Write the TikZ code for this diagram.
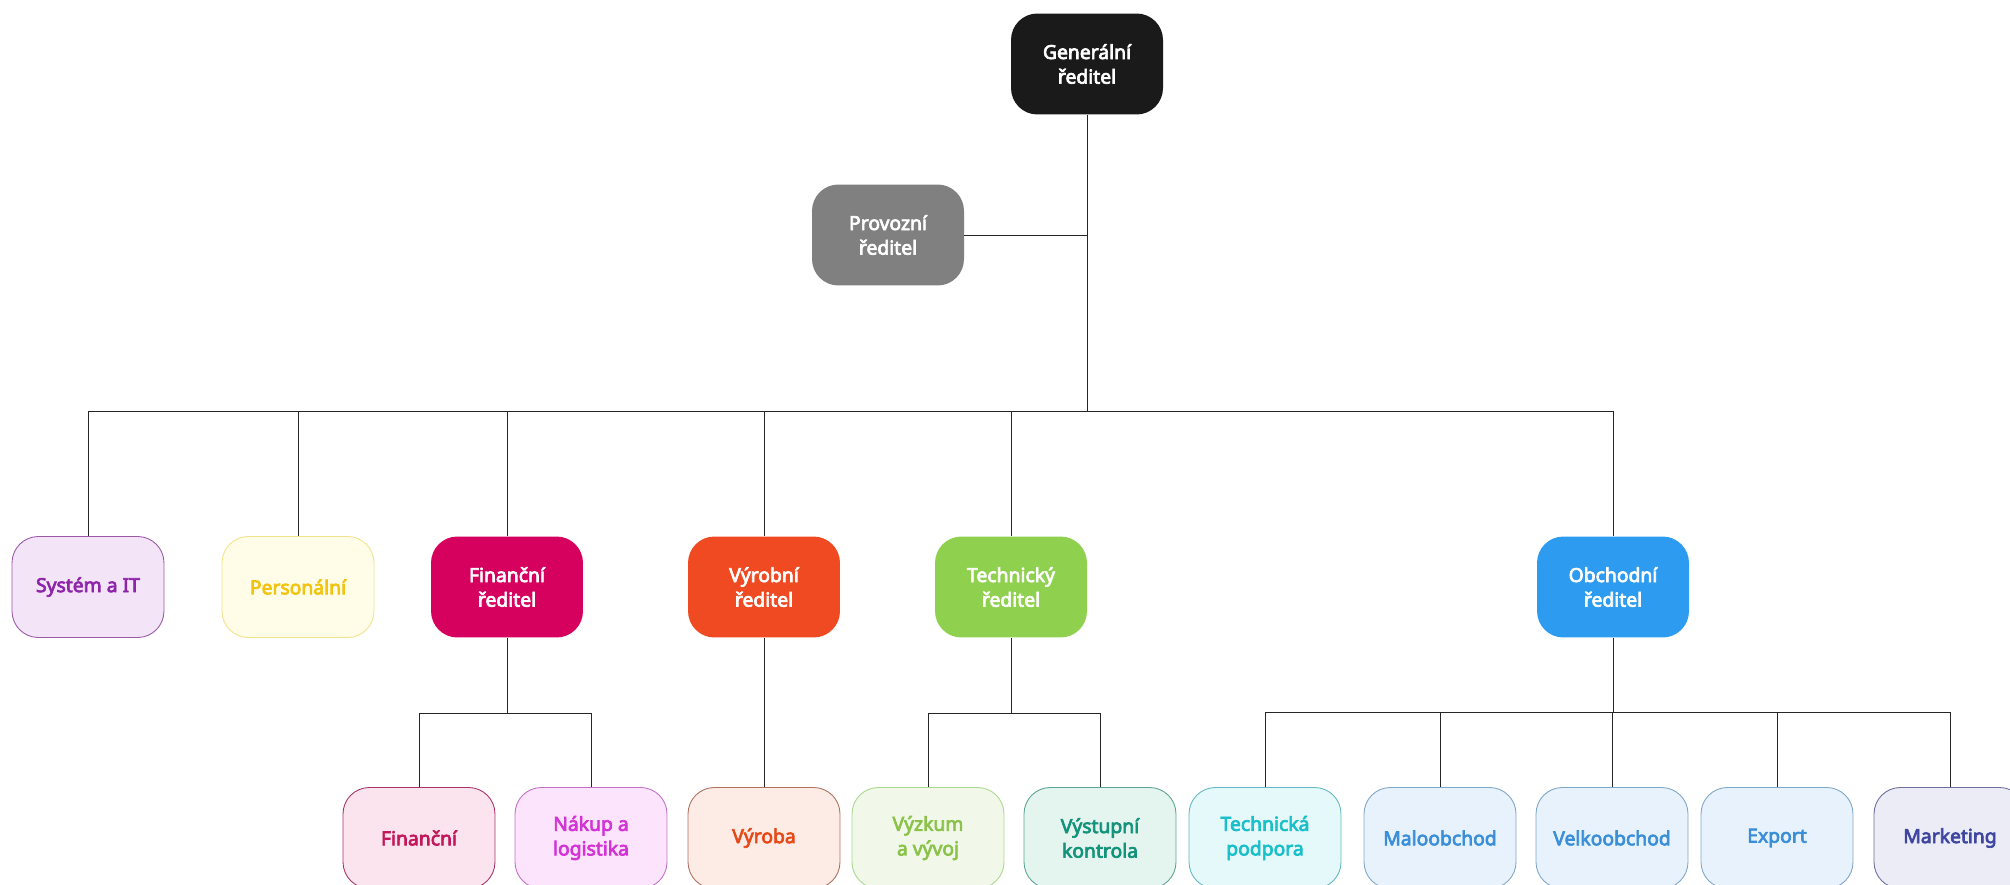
\documentclass[tikz,border=0pt]{standalone}
\usepackage{fontspec}
\setmainfont{Noto Sans}[BoldFont={Noto Sans}, BoldFeatures={FakeBold=3.6}]
\usepackage{xcolor}
\usetikzlibrary{positioning}
\definecolor{genfill}{HTML}{1A1A1A}
\definecolor{provfill}{HTML}{808080}
\definecolor{finfill}{HTML}{D6005E}
\definecolor{vyrfill}{HTML}{F04A23}
\definecolor{techfill}{HTML}{8FD14F}
\definecolor{obchfill}{HTML}{2D9BF0}
\definecolor{sysfill}{HTML}{F4E4F8}\definecolor{sysdraw}{HTML}{9B59A8}\definecolor{systext}{HTML}{8E24AA}
\definecolor{persfill}{HTML}{FFFDE8}\definecolor{persdraw}{HTML}{F2E28E}\definecolor{perstext}{HTML}{F2C40F}
\definecolor{fin1fill}{HTML}{FCE4EE}\definecolor{fin1draw}{HTML}{A8336A}\definecolor{fin1text}{HTML}{C2185B}
\definecolor{nakfill}{HTML}{FDE4FD}\definecolor{nakdraw}{HTML}{C36FC9}\definecolor{naktext}{HTML}{D334D6}
\definecolor{vyr1fill}{HTML}{FDEBE6}\definecolor{vyr1draw}{HTML}{B0705F}\definecolor{vyr1text}{HTML}{E64A19}
\definecolor{vyzfill}{HTML}{F1F8E9}\definecolor{vyzdraw}{HTML}{A9D88F}\definecolor{vyztext}{HTML}{8BC34A}
\definecolor{vysfill}{HTML}{E4F4EF}\definecolor{vysdraw}{HTML}{5AA594}\definecolor{vystext}{HTML}{12937A}
\definecolor{tpodfill}{HTML}{E5F8FA}\definecolor{tpoddraw}{HTML}{62B9C2}\definecolor{tpodtext}{HTML}{19BFC9}
\definecolor{obfill}{HTML}{E7F2FC}\definecolor{obdraw}{HTML}{7FA6C8}\definecolor{obtext}{HTML}{3A8FD8}
\definecolor{markfill}{HTML}{ECECF7}\definecolor{markdraw}{HTML}{6E6E9C}\definecolor{marktext}{HTML}{3F46A0}
\tikzset{
  box/.style = {rectangle, rounded corners=15, align=center, inner sep=2pt,
    minimum width=3.04cm, minimum height=2.02cm, font=\fontsize{11}{14}\selectfont\bfseries},
  headbox/.style = {box, fill=#1, text=white, draw=none},% vedouci, plna barva
  unitbox/.style = {box, fill=#1fill, draw=#1draw, text=#1text, line width=0.5pt},% oddeleni, svetla barva
  link/.style = {draw=black!85, line width=0.4pt}
}
\begin{document}
\begin{tikzpicture}[x=0.02cm,y=-0.02cm]
\useasboundingbox (0,0) rectangle (2010,885);
% vedeni
\node [headbox=genfill]  (gen)  at (1087,64)  {Generální\\ředitel};
\node [headbox=provfill] (prov) at (888,235)  {Provozní\\ředitel};
% druha uroven
\node [unitbox=sys]      (sys)  at (88,587)   {Systém a IT};
\node [unitbox=pers]     (pers) at (298,587)  {Personální};
\node [headbox=finfill]  (fin)  at (507,587)  {Finanční\\ředitel};
\node [headbox=vyrfill]  (vyr)  at (764,587)  {Výrobní\\ředitel};
\node [headbox=techfill] (tech) at (1011,587) {Technický\\ředitel};
\node [headbox=obchfill] (obch) at (1613,587) {Obchodní\\ředitel};
% treti uroven
\node [unitbox=fin1] (fin1) at (419,838)  {Finanční};
\node [unitbox=nak]  (nak)  at (591,838)  {Nákup a\\logistika};
\node [unitbox=vyr1] (vyr1) at (764,838)  {Výroba};
\node [unitbox=vyz]  (vyz)  at (928,838)  {Výzkum\\a vývoj};
\node [unitbox=vys]  (vys)  at (1100,838) {Výstupní\\kontrola};
\node [unitbox=tpod] (tpod) at (1265,838) {Technická\\podpora};
\node [unitbox=ob]   (malo) at (1440,838) {Maloobchod};
\node [unitbox=ob]   (velk) at (1612,838) {Velkoobchod};
\node [unitbox=ob]   (exp)  at (1777,838) {Export};
\node [unitbox=mark] (mark) at (1950,838) {Marketing};

\coordinate (bus) at (1087,411);
\coordinate (finbus) at (507,713);
\coordinate (techbus) at (1011,713);
\coordinate (obchbus) at (1613,712);

\draw [link] (gen.south) -- (bus);
\draw [link] (prov.east) -- (prov.east -| gen.south);
\foreach \n in {sys,pers,fin,vyr,tech,obch}
  \draw [link] (bus) -| (\n.north);
\draw [link] (fin.south) -- (finbus);
\foreach \n in {fin1,nak}
  \draw [link] (finbus) -| (\n.north);
\draw [link] (vyr.south) -- (vyr1.north);
\draw [link] (tech.south) -- (techbus);
\foreach \n in {vyz,vys}
  \draw [link] (techbus) -| (\n.north);
\draw [link] (obch.south) -- (obchbus);
\foreach \n in {tpod,malo,velk,exp,mark}
  \draw [link] (obchbus) -| (\n.north);
\end{tikzpicture}
\end{document}
